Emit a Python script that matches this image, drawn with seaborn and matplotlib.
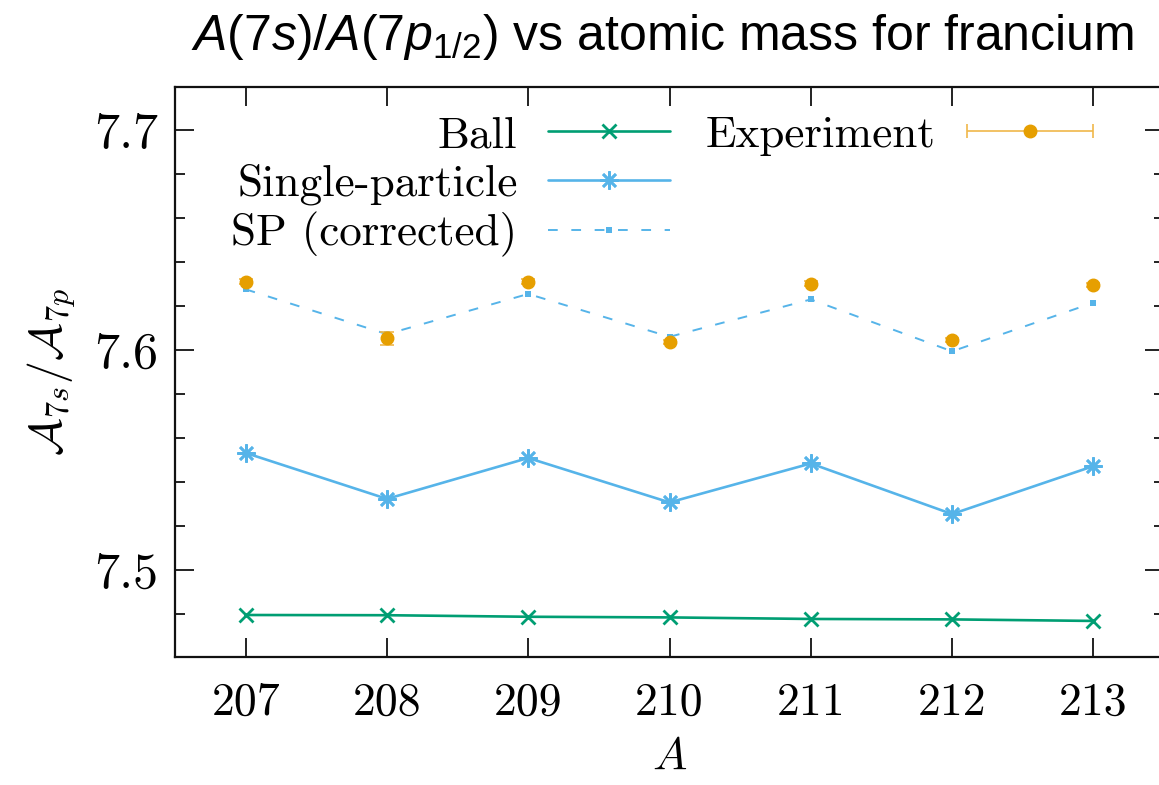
import matplotlib
matplotlib.use("Agg")
import matplotlib.pyplot as plt
import seaborn as sns
import pandas as pd
from matplotlib.container import ErrorbarContainer
from matplotlib.legend_handler import HandlerErrorbar
from matplotlib.ticker import MultipleLocator, FuncFormatter

# ---- data ----
mass = [207, 208, 209, 210, 211, 212, 213]
ball = [7.4795, 7.4794, 7.4787, 7.4784, 7.4777, 7.4775, 7.4768]
single_particle = [7.5532, 7.5323, 7.5509, 7.5307, 7.5484, 7.5254, 7.5472]
sp_corrected = [7.6276, 7.6072, 7.6255, 7.6060, 7.6230, 7.5994, 7.6215]
experiment = [7.6311, 7.6054, 7.6311, 7.6037, 7.6302, 7.6045, 7.6295]
experiment_err = [0.0010, 0.0030, 0.0010, 0.0010, 0.0010, 0.0010, 0.0010]
x_ticks = [207, 208, 209, 210, 211, 212, 213]
y_ticks = [7.5, 7.6, 7.7]

title = r"$\mathit{A(7s)/A(7p_{1/2})}$ vs atomic mass for francium"
xlabel = r"$A$"
ylabel = r"$\mathcal{A}_{7s}/\mathcal{A}_{7p}$"

GREEN = "#009e73"
BLUE = "#56b4e9"
ORANGE = "#e69f00"

sns.set_theme(style="ticks")
plt.rcParams["font.family"] = ["cmr10", "DejaVu Serif"]
plt.rcParams["mathtext.fontset"] = "cm"
plt.rcParams["axes.unicode_minus"] = False
plt.rcParams["mathtext.it"] = "Liberation Sans:italic"
plt.rcParams["mathtext.rm"] = "Liberation Sans"
plt.rcParams["mathtext.sf"] = "Liberation Sans"
for k in ["text.color", "axes.labelcolor", "xtick.color", "ytick.color",
          "xtick.labelcolor", "ytick.labelcolor"]:
    plt.rcParams[k] = "black"

fig = plt.figure(figsize=(11.59, 7.85), dpi=100)
L, R, B, T = 175, 1164, 657, 87
ax = fig.add_axes([L / 1159, 1 - B / 785, (R - L) / 1159, (B - T) / 785])

df = pd.DataFrame({"A": mass, "ball": ball, "sp": single_particle,
                   "spc": sp_corrected, "exp": experiment, "err": experiment_err})

sns.lineplot(data=df, x="A", y="ball", ax=ax, color=GREEN, lw=1.9,
             marker="x", markersize=10, markeredgewidth=2.0,
             markeredgecolor=GREEN, label="Ball", legend=False)
sns.lineplot(data=df, x="A", y="sp", ax=ax, color=BLUE, lw=1.9,
             marker=(8, 2, 0), markersize=13, markeredgewidth=1.9,
             markeredgecolor=BLUE, label="Single-particle", legend=False)
sns.lineplot(data=df, x="A", y="spc", ax=ax, color=BLUE, lw=1.4,
             linestyle=(0, (5, 7)), marker="s", markersize=4.5,
             markeredgewidth=0, markerfacecolor=BLUE,
             label="SP (corrected)", legend=False)
eb = ax.errorbar(df["A"], df["exp"], yerr=df["err"], fmt="o", color=ORANGE,
                 markersize=9, elinewidth=1.2, capsize=5, capthick=1.2,
                 ecolor="#f0b84a", label="Experiment", zorder=5)

ax.set_xlim(206.5, 213.5)
ax.set_ylim(7.4604, 7.7196)
ax.set_xticks(x_ticks)
ax.set_yticks(y_ticks)
ax.yaxis.set_minor_locator(MultipleLocator(0.02))
ax.yaxis.set_major_formatter(FuncFormatter(lambda v, p: f"{v:.1f}"))
ax.tick_params(axis="both", which="both", direction="in", top=True, right=True,
               color="#111111", width=1.3)
ax.tick_params(axis="both", which="major", length=14)
ax.tick_params(axis="both", which="minor", length=7)
ax.tick_params(axis="x", pad=18, labelsize=33)
ax.tick_params(axis="y", pad=12, labelsize=36)
for s in ax.spines.values():
    s.set_linewidth(1.6)
    s.set_color("#111111")

ax.set_xlabel(xlabel, fontsize=33, labelpad=9)
ax.set_ylabel(ylabel, fontsize=33, labelpad=12)
fig.text(0.5 * (188 + 1138) / 1159, 1 - 37 / 785, title, ha="center", va="center",
         fontsize=36, family="Liberation Sans", math_fontfamily="custom", color="black")

# legends
h = ax.get_lines()
leg1 = ax.legend(handles=h[:3], labels=["Ball", "Single-particle", "SP (corrected)"],
                 loc="upper right", bbox_to_anchor=((670 - L) / (R - L), 0.95),
                 markerfirst=False, frameon=False, fontsize=32.5, handlelength=2.7,
                 handletextpad=0.68, labelspacing=0.16, borderpad=0, borderaxespad=0)
ax.add_artist(leg1)
proxy = ErrorbarContainer((eb.lines[0], eb.lines[1], eb.lines[2]),
                          has_xerr=True, has_yerr=False, label="Experiment")
ax.legend(handles=[proxy], labels=["Experiment"], loc="upper right",
          bbox_to_anchor=((1093 - L) / (R - L), 0.95), markerfirst=False,
          frameon=False, fontsize=32.5, handlelength=2.8, handletextpad=0.68,
          borderpad=0, borderaxespad=0,
          handler_map={proxy: HandlerErrorbar(xerr_size=1.4, numpoints=1)})

fig.savefig("out.png", dpi=100)
